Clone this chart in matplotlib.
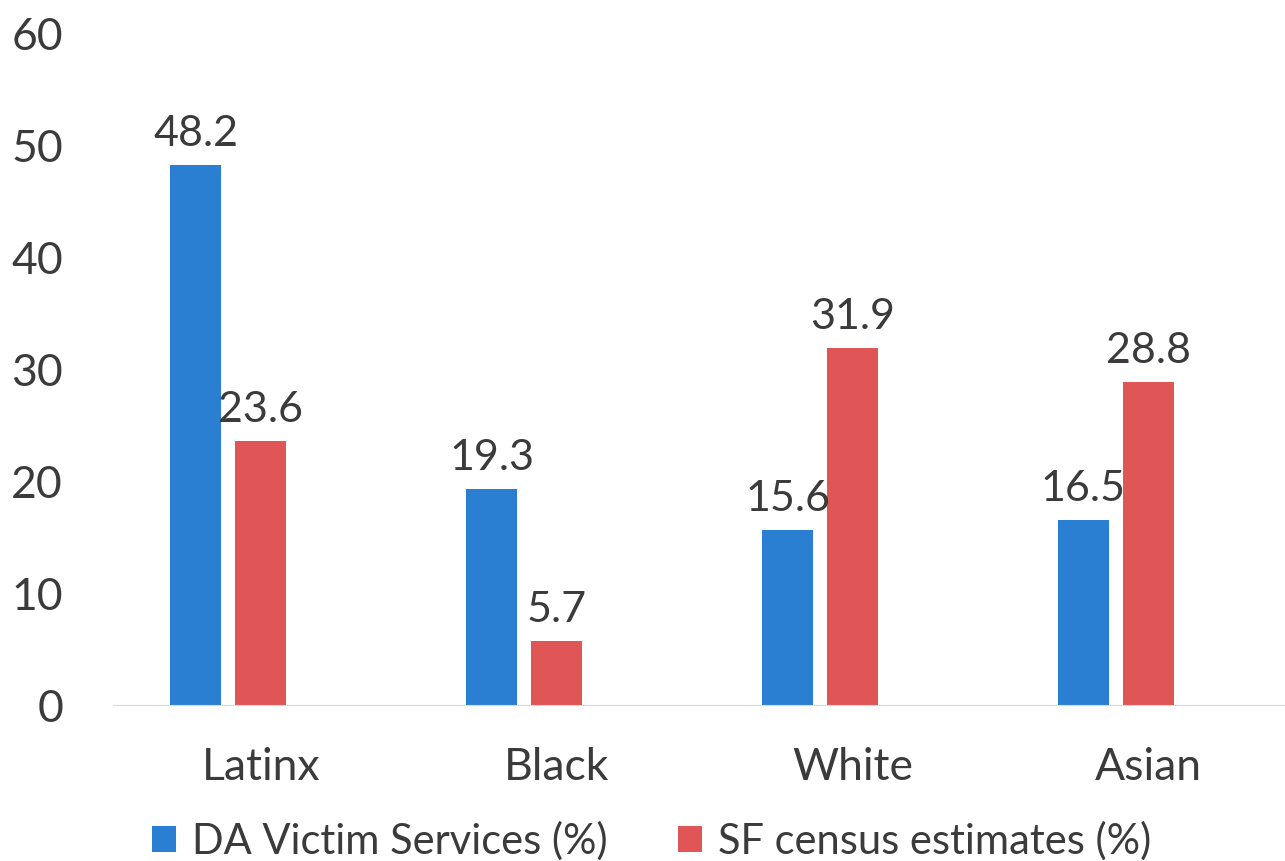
import matplotlib.pyplot as plt
import numpy as np

categories = ["Latinx", "Black", "White", "Asian"]
da_victim = [48.2, 19.3, 15.6, 16.5]
sf_census = [23.6, 5.7, 31.9, 28.8]
series_names = ["DA Victim Services (%)", "SF census estimates (%)"]
yticks = [0, 10, 20, 30, 40, 50, 60]

plt.rcParams['font.family'] = ['Lato', 'DejaVu Sans']
text_color = '#3b3b3b'
blue = '#2a7fd2'
red = '#e05555'
fs = 32

fig = plt.figure(figsize=(12.85, 8.61), dpi=100)
ax = fig.add_axes([113 / 1285, 1 - 705 / 861, 1 - 113 / 1285, (705 - 33) / 861])

x = np.arange(len(categories))
w = 0.173
off = 0.11
b1 = ax.bar(x - off, da_victim, w, color=blue, label=series_names[0])
b2 = ax.bar(x + off, sf_census, w, color=red, label=series_names[1])

for bars, vals in [(b1, da_victim), (b2, sf_census)]:
    for rect, v in zip(bars, vals):
        ax.annotate(f"{v}", (rect.get_x() + rect.get_width() / 2, v),
                    xytext=(0, 12), textcoords='offset pixels',
                    ha='center', va='bottom', fontsize=31, color=text_color)

ax.set_xlim(-0.389, 3.571)
ax.set_ylim(0, 60)
ax.set_yticks(yticks)
ax.set_xticks(x + 0.11)
ax.set_xticklabels(categories)
ax.tick_params(axis='both', length=0, labelsize=fs, labelcolor=text_color)
ax.tick_params(axis='y', pad=36)
ax.tick_params(axis='x', pad=30)
for s in ['top', 'right', 'left']:
    ax.spines[s].set_visible(False)
ax.spines['bottom'].set_color('#d9d9d9')

leg = fig.legend(handles=[b1, b2], loc='center left', bbox_to_anchor=(152 / 1285, 1 - 841 / 861),
                 ncol=2, frameon=False, fontsize=30, handlelength=0.58,
                 handleheight=0.58, handletextpad=0.38, columnspacing=1.68,
                 borderpad=0, borderaxespad=0)
for t in leg.get_texts():
    t.set_color(text_color)

fig.savefig("out.png", dpi=100)
